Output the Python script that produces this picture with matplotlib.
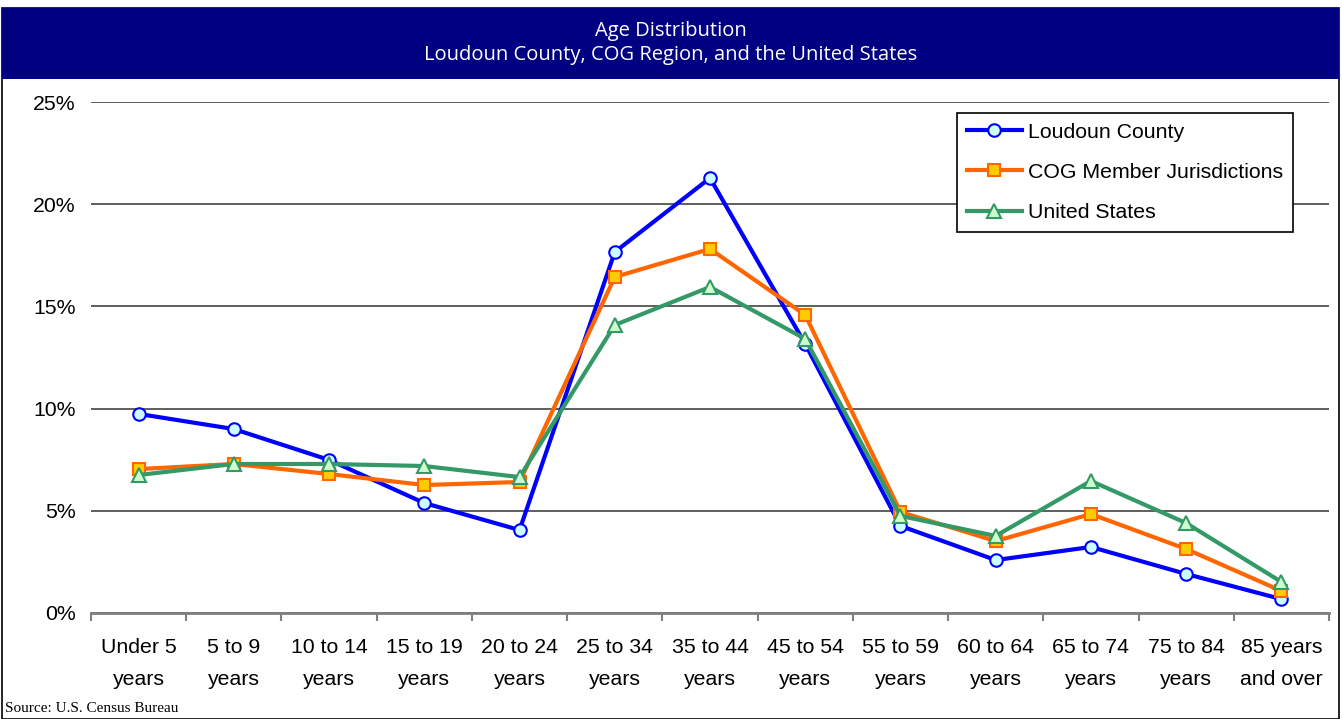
import matplotlib
matplotlib.use("Agg")
import matplotlib.pyplot as plt
from matplotlib.patches import Rectangle
from matplotlib.ticker import FuncFormatter, FixedLocator

categories = ["Under 5\nyears", "5 to 9\nyears", "10 to 14\nyears", "15 to 19\nyears",
              "20 to 24\nyears", "25 to 34\nyears", "35 to 44\nyears", "45 to 54\nyears",
              "55 to 59\nyears", "60 to 64\nyears", "65 to 74\nyears", "75 to 84\nyears",
              "85 years\nand over"]
loudoun = [9.74, 9.0, 7.49, 5.38, 4.06, 17.66, 21.28, 13.16, 4.26, 2.59, 3.23, 1.91, 0.68]
cog = [7.04, 7.29, 6.80, 6.26, 6.41, 16.44, 17.81, 14.58, 4.94, 3.52, 4.84, 3.13, 1.08]
us = [6.75, 7.29, 7.29, 7.19, 6.65, 14.09, 15.95, 13.41, 4.75, 3.77, 6.46, 4.40, 1.52]
yticks = [0, 5, 10, 15, 20, 25]
title_lines = ["Age Distribution", "Loudoun County, COG Region, and the United States"]
source = "Source: U.S. Census Bureau"

W, H = 1342, 719
fig = plt.figure(figsize=(W / 100, H / 100), dpi=100)
fig.patch.set_facecolor("white")

# outer border and title band
fig.patches.append(Rectangle((2 / W, 0), 1337 / W, (H - 8) / H, transform=fig.transFigure,
                             facecolor="none", edgecolor="black", linewidth=1.2))
fig.patches.append(Rectangle((2 / W, (H - 79) / H), 1337 / W, 71 / H, transform=fig.transFigure,
                             facecolor="#000080", edgecolor="#000080", linewidth=0))
fig.text(671 / W, 1 - 31 / H, title_lines[0], color="white", ha="center", va="center",
         fontsize=14.5, family="Open Sans")
fig.text(671 / W, 1 - 55 / H, title_lines[1], color="white", ha="center", va="center",
         fontsize=14.5, family="Open Sans")

ax = fig.add_axes([91 / W, 1 - 613 / H, (1329 - 91) / W, (613 - 102) / H])
x = list(range(len(categories)))

ax.plot(x, loudoun, color="#0000FF", lw=3, marker="o", ms=9, mfc="#CCFFFF", mec="#0000FF",
        mew=1.5, label="Loudoun County", zorder=3)
ax.plot(x, cog, color="#FF6600", lw=3, marker="s", ms=8.5, mfc="#FFCC00", mec="#FF6600",
        mew=1.5, label="COG Member Jurisdictions", zorder=4)
ax.plot(x, us, color="#339966", lw=3, marker="^", ms=10, mfc="#CCFFCC", mec="#339966",
        mew=1.5, label="United States", zorder=5)

ax.set_xlim(-0.5, len(categories) - 0.5)
ax.set_ylim(0, 25)
ax.set_yticks(yticks)
ax.yaxis.set_major_formatter(FuncFormatter(lambda v, p: f"{v:.0f}%"))
ax.yaxis.grid(True, color="#333333", lw=1.1)
ax.set_axisbelow(True)

ax.set_xticks(x)
ax.set_xticklabels(categories, fontsize=15.3, family="Liberation Sans", linespacing=1.85)
ax.xaxis.set_minor_locator(FixedLocator([i - 0.5 for i in range(len(categories) + 1)]))
ax.tick_params(axis="x", which="major", length=0, pad=18)
ax.tick_params(axis="x", which="minor", length=6, width=1.5, color="#808080", direction="out")
ax.tick_params(axis="y", length=0, pad=11, labelsize=15.3)
for lab in ax.get_yticklabels():
    lab.set_family("Liberation Sans")

for s in ["top", "right", "left"]:
    ax.spines[s].set_visible(False)
ax.spines["bottom"].set_color("#808080")
ax.spines["bottom"].set_linewidth(2)

leg = ax.legend(loc="upper right", bbox_to_anchor=((1293 - 91) / (1329 - 91), (613 - 113) / (613 - 102)),
                prop={"family": "Liberation Sans", "size": 15.3}, frameon=True, fancybox=False,
                edgecolor="black", framealpha=1, borderpad=0.45, labelspacing=1.0,
                handlelength=2.6, handletextpad=0.3, borderaxespad=0)
leg.get_frame().set_linewidth(1.2)

fig.text(5 / W, 1 - 712 / H, source, fontsize=11, family="Liberation Serif", ha="left", va="baseline")

fig.savefig("out.png", dpi=100)
